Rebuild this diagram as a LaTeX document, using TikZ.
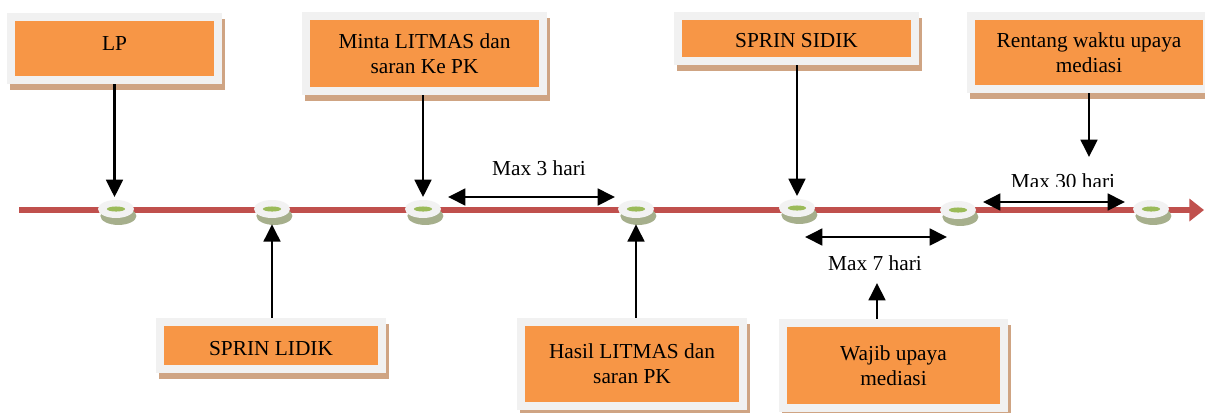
\documentclass[tikz,border=0pt]{standalone}
\usepackage{fontspec}
\setmainfont{Liberation Serif}
\usetikzlibrary{arrows.meta,shadows,calc,shapes.geometric}
\def\pxu{0.75pt}
\definecolor{boxorange}{RGB}{247,150,70}
\definecolor{boxframe}{RGB}{241,241,241}
\definecolor{boxshadow}{RGB}{207,164,131}
\definecolor{lineRed}{RGB}{192,80,77}
\definecolor{discwhite}{RGB}{242,242,242}
\definecolor{discshadow}{RGB}{166,175,140}
\definecolor{lensgreen}{RGB}{155,187,89}
\tikzset{
 stagebox/.style={rectangle, fill=boxframe, inner sep=0pt, align=center,
   font=\fontsize{16}{19}\selectfont,
   drop shadow={shadow xshift=2.6pt, shadow yshift=-4.5pt, fill=boxshadow, opacity=1},
   path picture={\fill[boxorange] ([shift={(6pt,-6pt)}]path picture bounding box.north west)
      rectangle ([shift={(-6pt,6pt)}]path picture bounding box.south east);}},
 disc/.style={ellipse, minimum width=36*\pxu, minimum height=18*\pxu, inner sep=0pt, fill=discwhite,
   drop shadow={shadow xshift=1.8pt, shadow yshift=-5.2pt, fill=discshadow, opacity=1},
   path picture={\fill[lensgreen] (path picture bounding box.center) ellipse [x radius=6.8pt, y radius=1.9pt];}},
 arr/.style={line width=2pt, -{Triangle[length=13pt,width=12.5pt]}},
 darr/.style={line width=2pt, {Triangle[length=13pt,width=12.5pt]}-{Triangle[length=13pt,width=12.5pt]}},
 lbl/.style={font=\fontsize{16}{19}\selectfont, inner sep=0pt},
}
\begin{document}
\begin{tikzpicture}[x=0.75pt,y=-0.75pt]
\useasboundingbox (0,0) rectangle (1205,412);
\clip (0,0) rectangle (1205,412);
\fill[white] (0,0) rectangle (1205,412);

% timeline
\coordinate (tl0) at (19,210);
\coordinate (tl1) at (1204,210);
\draw[line width=4.5pt, lineRed, -{Triangle[length=11pt,width=16.5pt]}] (tl0) -- (tl1);

% discs
\node[disc] (d1) at (116,209) {};
\node[disc] (d2) at (272,209) {};
\node[disc] (d3) at (423,209) {};
\node[disc] (d4) at (636,209) {};
\node[disc] (d5) at (797,208) {};
\node[disc] (d6) at (958,210) {};
\node[disc] (d7) at (1151,209) {};

% boxes
\node[stagebox, minimum width=215*\pxu, minimum height=71*\pxu, text height=11pt, text depth=8.75pt] (lp) at (114.5,48.5) {LP};
\node[stagebox, minimum width=230*\pxu, minimum height=55*\pxu, text height=14.25pt, text depth=0pt] (sl) at (271,345.5) {SPRIN LIDIK};
\node[stagebox, minimum width=245*\pxu, minimum height=83*\pxu] (mt) at (424.5,53.5) {Minta LITMAS dan\\saran Ke PK};
\node[stagebox, minimum width=230*\pxu, minimum height=92*\pxu] (hs) at (632,364) {Hasil LITMAS dan\\saran PK};
\node[stagebox, minimum width=245*\pxu, minimum height=53*\pxu, text height=12.75pt, text depth=0pt] (ss) at (796.5,38.5) {SPRIN SIDIK};
\node[stagebox, minimum width=244*\pxu, minimum height=81*\pxu] (rt) at (1089,52.5) {Rentang waktu upaya\\mediasi};
\node[stagebox, minimum width=229*\pxu, minimum height=93*\pxu] (wj) at (893.5,365.5) {Wajib upaya\\mediasi};

% vertical arrows
\coordinate (rtip) at (1089,157);
\coordinate (wtip) at (877,283);
\draw[arr, shorten >=2pt] (lp.south) -- (lp.south |- d1.north);
\draw[arr] (d2 |- sl.north) -- ($(d2.south)+(0,6)$);
\draw[arr, shorten >=2pt] (d3 |- mt.south) -- (d3.north);
\draw[arr] (d4 |- hs.north) -- ($(d4.south)+(0,6)$);
\draw[arr, shorten >=2pt] (d5 |- ss.south) -- (d5.north);
\draw[arr] (rtip |- rt.south) -- (rtip);
\draw[arr] (wtip |- wj.north) -- (wtip);

% durations
\coordinate (m3a) at (448,197); \coordinate (m3b) at (615,197);
\coordinate (m7a) at (805,237); \coordinate (m7b) at (947,237);
\coordinate (m30a) at (983,202); \coordinate (m30b) at (1125,202);
\draw[darr] (m3a) -- (m3b);
\draw[darr] (m7a) -- (m7b);
\draw[darr] (m30a) -- (m30b);
\node[lbl, anchor=base] (t3) at (539,175) {Max 3 hari};
\node[lbl, anchor=base] (t7) at (875,270) {Max 7 hari};
\begin{scope}
\clip (950,150) rectangle (1180,186);
\node[lbl, anchor=base] (t30) at (1063,188) {Max 30 hari};
\end{scope}
\end{tikzpicture}
\end{document}
